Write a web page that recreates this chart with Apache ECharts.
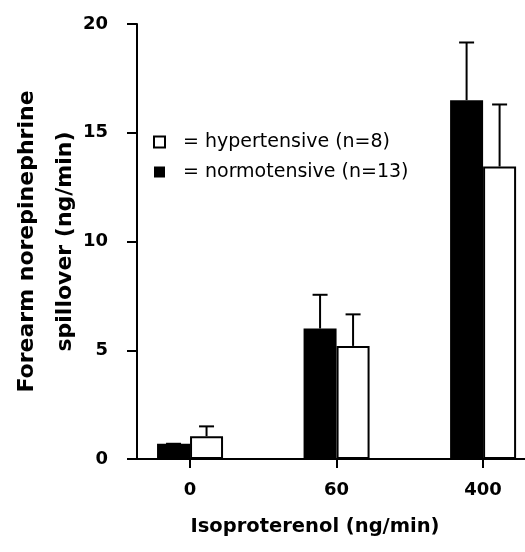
<!DOCTYPE html>
<html>
<head>
<meta charset="utf-8">
<script src="https://cdn.jsdelivr.net/npm/echarts@6/dist/echarts.min.js"></script>
<style>
html,body{margin:0;padding:0;background:#fff;}
#chart{width:525px;height:552px;}
</style>
</head>
<body>
<div id="chart"></div>
<script>
// ---- data ----
const categories = ['0', '60', '400'];
const normotensiveMean = [0.7, 6.0, 16.5];
const normotensiveUpper = [0.7, 7.55, 19.15];
const hypertensiveMean = [1.05, 5.2, 13.45];
const hypertensiveUpper = [1.5, 6.65, 16.3];
const yTicks = [0, 5, 10, 15, 20];

const FONT = "'DejaVu Sans', sans-serif";
const BAR_W = 33;

function pairs(vals) { return vals.map((v, i) => [i, v]); }
function errData(mean, upper) { return mean.map((m, i) => [i, m, upper[i]]); }

function errRender(offset) {
  return function (params, api) {
    const x = api.value(0);
    const p0 = api.coord([x, api.value(1)]);
    const p1 = api.coord([x, api.value(2)]);
    const cx = p0[0] + offset;
    const half = 7.5;
    const st = { stroke: '#000', lineWidth: 2 };
    return {
      type: 'group',
      children: [
        { type: 'line', shape: { x1: cx, y1: p0[1], x2: cx, y2: p1[1] }, style: st },
        { type: 'line', shape: { x1: cx - half, y1: p1[1], x2: cx + half, y2: p1[1] }, style: st }
      ]
    };
  };
}

const chart = echarts.init(document.getElementById('chart'), null, { renderer: 'canvas' });
chart.setOption({
  animation: false,
  backgroundColor: '#fff',
  grid: { left: 137, right: 0, top: 24, bottom: 93, containLabel: false, outerBoundsMode: 'none' },
  legend: {
    orient: 'vertical',
    left: 153,
    top: 132,
    padding: 0,
    itemWidth: 11,
    itemHeight: 11,
    itemGap: 10,
    icon: 'rect',
    formatter: function (name) {
      return name === 'hypertensive' ? '= hypertensive (n=8)' : '= normotensive (n=13)';
    },
    textStyle: { fontFamily: FONT, fontSize: 19, color: '#000', lineHeight: 20, padding: [0, 0, 0, 13] },
    data: [
      { name: 'hypertensive', itemStyle: { color: '#fff', borderColor: '#000', borderWidth: 2 } },
      { name: 'normotensive', itemStyle: { color: '#000', borderColor: '#000', borderWidth: 0 } }
    ]
  },
  xAxis: {
    type: 'value',
    min: -0.362,
    max: 2.286,
    name: 'Isoproterenol (ng/min)',
    nameLocation: 'middle',
    nameGap: 58,
    nameMoveOverlap: false,
    nameTextStyle: { fontFamily: FONT, fontSize: 19.5, fontWeight: 'bold', color: '#000', padding: [0, 32, 0, 0] },
    axisLine: { show: true, onZero: false, lineStyle: { color: '#000', width: 2 } },
    axisTick: { show: true, length: 9, lineStyle: { color: '#000', width: 2 }, customValues: [0, 1, 2] },
    axisLabel: {
      customValues: [0, 1, 2],
      formatter: function (v) { return categories[Math.round(v)]; },
      fontFamily: FONT, fontSize: 18, fontWeight: 'bold', color: '#000', margin: 22
    },
    splitLine: { show: false }
  },
  yAxis: {
    type: 'value',
    min: 0,
    max: 20,
    interval: 5,
    name: 'Forearm norepinephrine\nspillover (ng/min)',
    nameLocation: 'middle',
    nameRotate: 90,
    nameGap: 53,
    nameMoveOverlap: false,
    nameTextStyle: { fontFamily: FONT, fontSize: 22, fontWeight: 'bold', color: '#000', lineHeight: 38 },
    axisLine: { show: true, onZero: false, lineStyle: { color: '#000', width: 2 } },
    axisTick: { show: true, length: 10, lineStyle: { color: '#000', width: 2 } },
    axisLabel: {
      fontFamily: FONT, fontSize: 18, fontWeight: 'bold', color: '#000', margin: 29,
      formatter: function (v) { return yTicks.indexOf(v) >= 0 ? String(v) : ''; }
    },
    splitLine: { show: false }
  },
  series: [
    {
      name: 'normotensive',
      type: 'bar',
      barWidth: BAR_W,
      barGap: '0%',
      itemStyle: { color: '#000', borderColor: '#000', borderWidth: 0 },
      data: pairs(normotensiveMean),
      z: 2
    },
    {
      name: 'hypertensive',
      type: 'bar',
      barWidth: BAR_W,
      barGap: '0%',
      itemStyle: { color: '#fff', borderColor: '#000', borderWidth: 2 },
      data: pairs(hypertensiveMean),
      z: 2
    },
    {
      type: 'custom',
      name: 'normErr',
      renderItem: errRender(-BAR_W / 2),
      data: errData(normotensiveMean, normotensiveUpper),
      z: 3,
      silent: true
    },
    {
      type: 'custom',
      name: 'hypErr',
      renderItem: errRender(BAR_W / 2),
      data: errData(hypertensiveMean, hypertensiveUpper),
      z: 3,
      silent: true
    }
  ]
});
</script>
</body>
</html>
